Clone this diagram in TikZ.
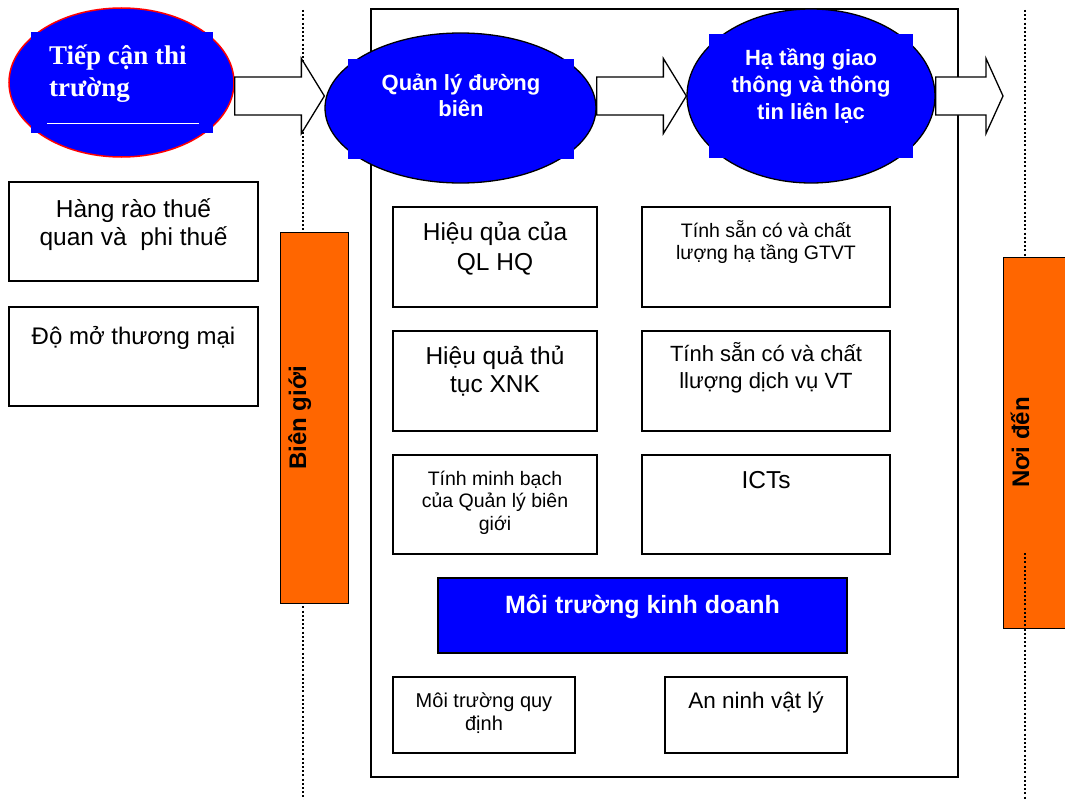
\documentclass[tikz,border=0pt]{standalone}
\usepackage{fontspec}
\setmainfont{Liberation Sans}
\newfontfamily\tnr{Liberation Serif}
\usetikzlibrary{shapes.geometric,calc}
\definecolor{orng}{HTML}{FF6600}
% name, x1, y1, x2, y2, baseline, style, text
\newcommand\tb[8]{%
  \pgfmathsetmacro\tbw{#4-#2}%
  \pgfmathsetmacro\tbh{#6-#3}%
  \pgfmathsetmacro\tbd{#5-#6}%
  \pgfmathsetmacro\tbx{(#2+#4)/2}%
  \node[#7, anchor=base, inner sep=0pt, minimum width=\tbw pt,
        text height=\tbh pt, text depth=\tbd pt] (#1) at (\tbx,#6)
        {\parbox[t]{\tbw pt}{\centering #8}};}
\newcommand\blockarrow[3]{%
  \draw[barrow] ($(#1)+(0,-19)$) -- ($(#2)+(-#3,-19)$) -- ($(#2)+(-#3,-37.5)$)
    -- (#2) -- ($(#2)+(-#3,37.5)$) -- ($(#2)+(-#3,19)$) -- ($(#1)+(0,19)$) -- cycle;}
\tikzset{
  box/.style={draw=black, line width=1.2pt, fill=white},
  bluebox/.style={draw=black, line width=1.2pt, fill=blue, text=white},
  orbox/.style={draw=black, line width=1.3pt, fill=orng, inner sep=0pt},
  dotline/.style={line width=2pt, dash pattern=on 2pt off 2.2pt},
  barrow/.style={draw=black, line width=1.3pt, fill=white, line join=miter},
  bell/.style={ellipse, draw=black, line width=1.3pt, fill=blue, inner sep=0pt},
  rotlabel/.style={rotate=90, anchor=base, inner sep=0pt, font=\bfseries\fontsize{24}{28}\selectfont},
  elltext/.style={inner sep=0pt, text=white, font=\bfseries\fontsize{22}{26.7}\selectfont}
}
\begin{document}
\begin{tikzpicture}[x=1pt,y=-1pt]
\useasboundingbox (0,0) rectangle (1065,800);
% dotted boundary lines
\draw[dotline] (303,10) -- (303,800);
\draw[dotline] (1025,10) -- (1025,257);
% main frame
\draw[line width=1.4pt] (371,9) rectangle (958,777);
% left boxes
\tb{hr}{9}{182}{258}{281}{217.5}{box}{\fontsize{24.5}{28}\selectfont Hàng rào thuế\\quan và\ \ phi thuế}
\tb{dm}{9}{307}{258}{406}{344}{box}{\fontsize{24}{28}\selectfont Độ mở thương mại}
% inner boxes
\tb{hq}{393}{207}{597}{307}{240.5}{box}{\fontsize{24.5}{29.5}\selectfont Hiệu qủa của\\QL HQ}
\tb{gt}{642}{207}{890}{307}{237}{box}{\fontsize{19.5}{22.5}\selectfont Tính sẵn có và chất\\lượng hạ tầng GTVT}
\tb{xnk}{393}{331}{597}{431}{364}{box}{\fontsize{24.5}{28.7}\selectfont Hiệu quả thủ\\tục XNK}
\tb{vt}{642}{331}{890}{431}{361.7}{box}{\fontsize{22}{26.3}\selectfont Tính sẵn có và chất\\llượng dịch vụ VT}
\tb{mb}{393}{455}{597}{554}{485}{box}{\fontsize{19.5}{22.6}\selectfont Tính minh bạch\\của Quản lý biên\\giới}
\tb{ict}{642}{455}{890}{554}{488}{box}{\fontsize{24.5}{29}\selectfont ICTs}
\tb{kd}{438}{578}{847}{653}{613}{bluebox}{\bfseries\fontsize{25}{30}\selectfont Môi trường kinh doanh}
\tb{qd}{393}{677}{575}{753}{707}{box}{\fontsize{20}{23}\selectfont Môi trường quy\\định}
\tb{an}{665}{677}{847}{753}{708}{box}{\fontsize{22.5}{26}\selectfont An ninh vật lý}
% orange bars
\node[orbox, anchor=north west, minimum width=68pt, minimum height=371pt] (bg) at (280,232) {};
\node[rotlabel] (bgt) at (306,418) {Biên giới};
\node[orbox, anchor=north west, minimum width=75pt, minimum height=371pt] (nd) at (1003,257) {};
\node[rotlabel] (ndt) at (1029,442.5) {Nơi đến};
\draw[dotline] (1025,553) -- (1025,800);
% ellipses
\node[bell, draw=red, line width=1.5pt, minimum width=225pt, minimum height=149pt] (e1) at (121.5,82.5) {};
\node[bell, minimum width=271pt, minimum height=150pt] (e2) at (460.5,108) {};
\node[bell, minimum width=248pt, minimum height=174pt] (e3) at (811,96) {};
% block arrows
\coordinate (lvl) at (0,96);
\coordinate (a1s) at (e1.east |- lvl);
\coordinate (a1t) at (e2.west |- lvl);
\coordinate (a2s) at (e2.east |- lvl);
\coordinate (a2t) at (e3.west |- lvl);
\coordinate (a3s) at (e3.east |- lvl);
\coordinate (a3t) at (1003,96);
\blockarrow{a1s}{a1t}{23}
\blockarrow{a2s}{a2t}{23}
\blockarrow{a3s}{a3t}{17}
% blue text panels on ellipses
\fill[blue] (31,32) rectangle (213,133);
\fill[blue] (348,59) rectangle (574,159);
\fill[blue] (709,34) rectangle (913,158);
\draw[white, line width=1pt] (47,123) -- (199,123);
% ellipse texts
\node[anchor=base west, inner sep=0pt, text=white, font=\tnr\bfseries\fontsize{27}{32}\selectfont] (e1t) at (49,65)
  {\parbox[t]{190pt}{\raggedright Tiếp cận thi\\trường}};
\node[elltext, anchor=base] (e2t) at (461,90) {\parbox[t]{220pt}{\centering Quản lý đường\\biên}};
\node[elltext, anchor=base] (e3t) at (811,66) {\parbox[t]{200pt}{\centering Hạ tầng giao\\thông và thông\\tin liên lạc}};
\end{tikzpicture}
\end{document}
